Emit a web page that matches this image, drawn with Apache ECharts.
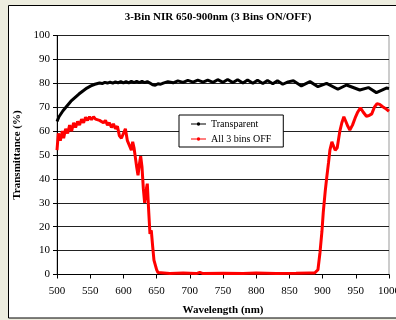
<!DOCTYPE html>
<html><head><meta charset="utf-8">
<script src="https://cdn.jsdelivr.net/npm/echarts@6/dist/echarts.min.js"></script>
<style>html,body{margin:0;padding:0;background:#EDEDDF;}#c{width:396px;height:320px;}</style>
</head><body><div id="c"></div>
<script>
const chartTitle = '3-Bin NIR 650-900nm (3 Bins ON/OFF)';
const seriesNames = ['Transparent', 'All 3 bins OFF'];
const xTickValues = [500, 550, 600, 650, 700, 750, 800, 850, 900, 950, 1000];
const yTickValues = [0, 10, 20, 30, 40, 50, 60, 70, 80, 90, 100];

const transparentWl = [500,503,506,509,512,515,518,521,524,527,530,533,536,539,542,545,548,551,554,557,560,564,568,572,576,580,584,588,592,596,600,604,608,612,616,620,624,628,632,636,640,644,648,652,656,660,667,675,682,690,697,705,712,720,727,735,742,750,757,765,772,780,787,795,802,810,817,825,832,840,848,856,868,881,893,906,923,936,956,969,981,996,1000];
const transparentT = [64,66,66.5,68.5,69,70.5,71,72.5,73,74,74.5,75.5,76,76.8,77.2,78,78.3,78.9,79.1,79.6,79.6,80.1,79.9,80.4,80.1,80.5,80.1,80.6,80.2,80.7,80.2,80.7,80.2,80.8,80.3,80.8,80.3,80.8,80.3,80.7,80.1,79.4,79.2,79.8,79.6,80.1,80.7,80.2,81.0,80.4,81.2,80.5,81.3,80.5,81.3,80.4,81.5,80.4,81.6,80.3,81.5,80.1,81.4,80.0,81.3,79.9,81.2,79.8,81.1,79.6,80.6,81.1,78.9,80.7,78.6,80.0,77.5,79.3,77.2,78.2,76.1,78.0,77.8];

const offWl = [500,502,505,508,510,513,516,519,522,525,528,531,534,537,540,543,546,549,552,555,558,561,564,567,570,573,576,579,582,585,588,591,594,597,600,603,606,609,612,614,616,618,620,622,624,626,628,630,632,634,636,638,640,642,644,646,648,650,652,655,670,690,710,715,720,750,780,800,830,860,880,888,891,893,896,899,901,904,906,909,911,914,916,919,922,926,929,932,935,938,941,945,949,953,957,961,966,970,974,978,982,986,990,994,997,1000];
const offT = [52,59,56,60,57,61,59,62.5,60,63.5,61.5,64,62.5,65,63.5,65.8,64.5,66,64.8,66,65,65.8,64.5,65,63.5,64.5,62.5,63.5,61.5,63,61,62,58,57,59,61,56,54,52,55.5,53,49,45,41.5,46,49.5,45,36,30,35,38,27,17,18.5,12,6,4,2,0.8,0.5,0.4,0.6,0.4,0.9,0.4,0.5,0.4,0.6,0.4,0.5,0.6,0.6,1.2,2,9,18,26,35,40,47,52,55.5,54,52,53,60,63.5,66,64,62,60.5,62.5,65.5,68,69.8,68,66.2,66.5,67.2,70,71.5,71.2,70.3,69.6,69,68.3];

const pairs = (xs, ys) => xs.map((x, i) => [x, ys[i]]);
const serif = '"Liberation Serif", "Times New Roman", serif';
const legendIcon = 'path://M0,2.5 L30,2.5 L30,4.5 L0,4.5 Z M11.5,3.5 A3.5,3.5 0 1,1 18.5,3.5 A3.5,3.5 0 1,1 11.5,3.5 Z';

const chart = echarts.init(document.getElementById('c'), null, {renderer: 'canvas'});
chart.setOption({
  animation: false,
  backgroundColor: 'transparent',
  graphic: [
    {type: 'rect', z: -100, silent: true, shape: {x: 8.5, y: 5.5, width: 400, height: 312.5}, style: {fill: '#fff', stroke: '#000', lineWidth: 1}},
    {type: 'text', x: 218, y: 17, silent: true, style: {text: chartTitle, x: 0, y: 0, textAlign: 'center', textVerticalAlign: 'middle', font: 'bold 11px ' + serif, fill: '#000'}}
  ],
  grid: {left: 57, top: 35.5, width: 332, height: 239, show: true, backgroundColor: '#fff', borderColor: '#999', borderWidth: 1, containLabel: false, outerBoundsMode: 'none'},
  legend: {
    orient: 'vertical', left: 179, top: 115,
    backgroundColor: '#fff', borderColor: '#000', borderWidth: 1, borderRadius: 0,
    padding: [3, 12, 2, 12], itemGap: 3, itemWidth: 15, itemHeight: 3.5,
    icon: legendIcon,
    textStyle: {fontFamily: serif, fontSize: 10, color: '#000', lineHeight: 12},
    data: seriesNames
  },
  xAxis: {
    type: 'value', min: xTickValues[0], max: xTickValues[xTickValues.length - 1], interval: 50,
    name: 'Wavelength (nm)', nameLocation: 'middle', nameGap: 30,
    nameTextStyle: {fontFamily: serif, fontSize: 11, fontWeight: 'bold', color: '#000'},
    axisLine: {show: true, onZero: false, lineStyle: {color: '#000', width: 1}},
    axisTick: {show: true, length: 4, inside: false, lineStyle: {color: '#000'}},
    axisLabel: {fontFamily: serif, fontSize: 11, color: '#000', margin: 11, hideOverlap: false,
      formatter: v => String(v)},
    splitLine: {show: false}
  },
  yAxis: {
    type: 'value', min: yTickValues[0], max: yTickValues[yTickValues.length - 1], interval: 10,
    name: 'Transmittance (%)', nameLocation: 'middle', nameGap: 33, nameRotate: 90,
    nameTextStyle: {fontFamily: serif, fontSize: 11, fontWeight: 'bold', color: '#000'},
    axisLine: {show: true, lineStyle: {color: '#000', width: 1}},
    axisTick: {show: true, length: 4, lineStyle: {color: '#000'}},
    axisLabel: {fontFamily: serif, fontSize: 11, color: '#000', margin: 7, formatter: v => String(v)},
    splitLine: {show: true, lineStyle: {color: '#222', width: 1}}
  },
  series: [
    {name: seriesNames[0], type: 'line', data: pairs(transparentWl, transparentT), showSymbol: false, symbol: 'none',
      lineStyle: {color: '#000', width: 3}, itemStyle: {color: '#000'}, z: 3},
    {name: seriesNames[1], type: 'line', data: pairs(offWl, offT), showSymbol: false, symbol: 'none',
      lineStyle: {color: '#ff0000', width: 3}, itemStyle: {color: '#ff0000'}, z: 4}
  ]
});
</script></body></html>
